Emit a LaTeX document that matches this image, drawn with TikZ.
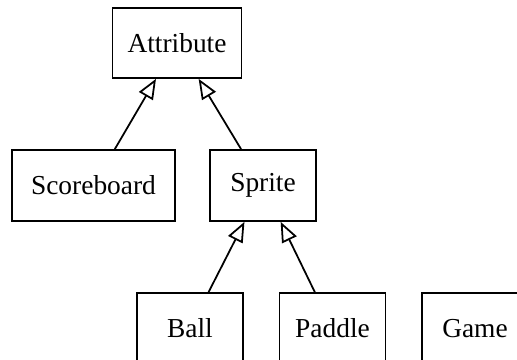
\documentclass[tikz,border=0pt]{standalone}
\usepackage{fontspec}
\setmainfont{Liberation Serif}
\usetikzlibrary{arrows.meta}

\begin{document}
\begin{tikzpicture}[
  classe/.style={draw, line width=1pt, minimum width=2.12cm, minimum height=1.42cm,
    inner xsep=0.3cm, font=\fontsize{15.6}{18}\selectfont},
  eredita/.style={line width=1pt, -{Triangle[open, length=4mm, width=3.2mm]}}
]

% Cornice
\useasboundingbox (0,0) rectangle (10.34,7.2);
\clip (0,0) rectangle (10.34,7.2);

% Classi
\node[classe, minimum height=1.40cm, minimum width=2.56cm] (attribute) at (3.54,6.34) {Attribute};
\node[classe, minimum width=3.26cm] (scoreboard) at (1.87,3.49) {Scoreboard};
\node[classe] (sprite) at (5.26,3.49) {Sprite};
\node[classe] (ball) at (3.80,0.63) {Ball};
\node[classe] (paddle) at (6.65,0.63) {Paddle};
\node[classe] (game) at (9.50,0.63) {Game};

% Ereditarieta
\draw[eredita] (scoreboard) -- (attribute);
\draw[eredita] (sprite) -- (attribute);
\draw[eredita] (ball) -- (sprite);
\draw[eredita] (paddle) -- (sprite);

\end{tikzpicture}
\end{document}
